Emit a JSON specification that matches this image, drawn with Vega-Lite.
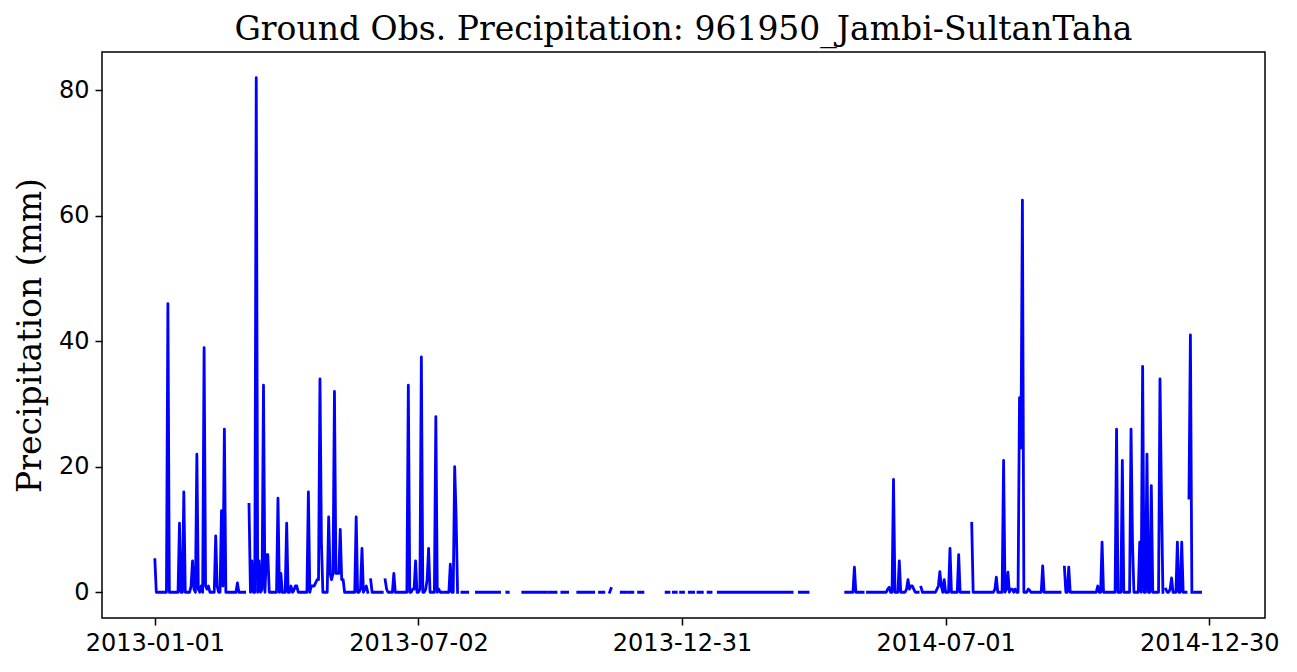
{
"$schema": "https://vega.github.io/schema/vega-lite/v6.json",
"width": 1163, "height": 566,
"autosize": {"type": "none"},
"padding": {"left": 102, "top": 52, "right": 32, "bottom": 54},
"background": "white",
"title": {"text": "Ground Obs. Precipitation: 961950_Jambi-SultanTaha", "font": "DejaVu Serif", "fontSize": 33, "fontWeight": "normal", "color": "black", "anchor": "middle", "offset": 7, "baseline": "bottom", "dy": 35},
"config": {"view": {"stroke": "black", "strokeWidth": 1.5}, "axis": {"domain": false, "grid": false, "tickColor": "black", "tickSize": 7, "tickWidth": 1.5, "labelFont": "DejaVu Sans", "labelFontSize": 24, "labelColor": "black", "titleFont": "DejaVu Serif", "titleFontSize": 33, "titleFontWeight": "normal", "titleColor": "black"}},
"data": {"values": [
{"date":"2013-01-01","precip":5.2},{"date":"2013-01-02","precip":0},{"date":"2013-01-03","precip":0},{"date":"2013-01-04","precip":0},{"date":"2013-01-05","precip":0},{"date":"2013-01-06","precip":0},{"date":"2013-01-07","precip":0},{"date":"2013-01-08","precip":0},{"date":"2013-01-09","precip":0},{"date":"2013-01-10","precip":46},{"date":"2013-01-11","precip":0},{"date":"2013-01-12","precip":0},{"date":"2013-01-13","precip":0},{"date":"2013-01-14","precip":0},{"date":"2013-01-15","precip":0},{"date":"2013-01-16","precip":0},{"date":"2013-01-17","precip":0},{"date":"2013-01-18","precip":11},{"date":"2013-01-19","precip":0},{"date":"2013-01-20","precip":0},{"date":"2013-01-21","precip":16},{"date":"2013-01-22","precip":0},{"date":"2013-01-23","precip":0},{"date":"2013-01-24","precip":0},{"date":"2013-01-25","precip":0},{"date":"2013-01-26","precip":1},{"date":"2013-01-27","precip":5},{"date":"2013-01-28","precip":0.5},{"date":"2013-01-29","precip":0},{"date":"2013-01-30","precip":22},{"date":"2013-01-31","precip":0.5},
{"date":"2013-02-01","precip":0},{"date":"2013-02-02","precip":1},{"date":"2013-02-03","precip":0},{"date":"2013-02-04","precip":39},{"date":"2013-02-05","precip":1},{"date":"2013-02-06","precip":0.5},{"date":"2013-02-07","precip":1},{"date":"2013-02-08","precip":0},{"date":"2013-02-09","precip":0},{"date":"2013-02-10","precip":0},{"date":"2013-02-11","precip":0},{"date":"2013-02-12","precip":9},{"date":"2013-02-13","precip":1},{"date":"2013-02-14","precip":0},{"date":"2013-02-15","precip":0},{"date":"2013-02-16","precip":13},{"date":"2013-02-17","precip":1},{"date":"2013-02-18","precip":26},{"date":"2013-02-19","precip":0},{"date":"2013-02-20","precip":0},{"date":"2013-02-21","precip":0},{"date":"2013-02-22","precip":0},{"date":"2013-02-23","precip":0},{"date":"2013-02-24","precip":0},{"date":"2013-02-25","precip":0},{"date":"2013-02-26","precip":0},{"date":"2013-02-27","precip":1.5},{"date":"2013-02-28","precip":0},
{"date":"2013-03-01","precip":0},{"date":"2013-03-02","precip":0},{"date":"2013-03-03","precip":0},{"date":"2013-03-04","precip":0},{"date":"2013-03-05","precip":null},{"date":"2013-03-06","precip":null},{"date":"2013-03-07","precip":14},{"date":"2013-03-08","precip":0},{"date":"2013-03-09","precip":5},{"date":"2013-03-10","precip":0},{"date":"2013-03-11","precip":0},{"date":"2013-03-12","precip":82},{"date":"2013-03-13","precip":0},{"date":"2013-03-14","precip":5},{"date":"2013-03-15","precip":0},{"date":"2013-03-16","precip":0.5},{"date":"2013-03-17","precip":33},{"date":"2013-03-18","precip":0},{"date":"2013-03-19","precip":6},{"date":"2013-03-20","precip":6},{"date":"2013-03-21","precip":0},{"date":"2013-03-22","precip":0},{"date":"2013-03-23","precip":0},{"date":"2013-03-24","precip":0},{"date":"2013-03-25","precip":0},{"date":"2013-03-26","precip":0},{"date":"2013-03-27","precip":15},{"date":"2013-03-28","precip":0},{"date":"2013-03-29","precip":3},{"date":"2013-03-30","precip":0},{"date":"2013-03-31","precip":0},
{"date":"2013-04-01","precip":0},{"date":"2013-04-02","precip":11},{"date":"2013-04-03","precip":0},{"date":"2013-04-04","precip":0},{"date":"2013-04-05","precip":1},{"date":"2013-04-06","precip":0},{"date":"2013-04-07","precip":0.3},{"date":"2013-04-08","precip":1},{"date":"2013-04-09","precip":1},{"date":"2013-04-10","precip":0},{"date":"2013-04-11","precip":0},{"date":"2013-04-12","precip":0},{"date":"2013-04-13","precip":0},{"date":"2013-04-14","precip":0},{"date":"2013-04-15","precip":0},{"date":"2013-04-16","precip":0},{"date":"2013-04-17","precip":16},{"date":"2013-04-18","precip":0},{"date":"2013-04-19","precip":1},{"date":"2013-04-20","precip":1},{"date":"2013-04-21","precip":1},{"date":"2013-04-22","precip":1.5},{"date":"2013-04-23","precip":2},{"date":"2013-04-24","precip":2},{"date":"2013-04-25","precip":34},{"date":"2013-04-26","precip":8},{"date":"2013-04-27","precip":0},{"date":"2013-04-28","precip":0},{"date":"2013-04-29","precip":0},{"date":"2013-04-30","precip":0},
{"date":"2013-05-01","precip":12},{"date":"2013-05-02","precip":3},{"date":"2013-05-03","precip":2},{"date":"2013-05-04","precip":3},{"date":"2013-05-05","precip":32},{"date":"2013-05-06","precip":3},{"date":"2013-05-07","precip":3},{"date":"2013-05-08","precip":3},{"date":"2013-05-09","precip":10},{"date":"2013-05-10","precip":2},{"date":"2013-05-11","precip":2},{"date":"2013-05-12","precip":0},{"date":"2013-05-13","precip":0},{"date":"2013-05-14","precip":0},{"date":"2013-05-15","precip":0},{"date":"2013-05-16","precip":0},{"date":"2013-05-17","precip":0},{"date":"2013-05-18","precip":0},{"date":"2013-05-19","precip":0},{"date":"2013-05-20","precip":12},{"date":"2013-05-21","precip":0},{"date":"2013-05-22","precip":0},{"date":"2013-05-23","precip":0.5},{"date":"2013-05-24","precip":7},{"date":"2013-05-25","precip":0},{"date":"2013-05-26","precip":0.5},{"date":"2013-05-27","precip":1},{"date":"2013-05-28","precip":0},{"date":"2013-05-29","precip":null},{"date":"2013-05-30","precip":2},{"date":"2013-05-31","precip":0},
{"date":"2013-06-01","precip":0},{"date":"2013-06-02","precip":0},{"date":"2013-06-03","precip":0},{"date":"2013-06-04","precip":0},{"date":"2013-06-05","precip":0},{"date":"2013-06-06","precip":0},{"date":"2013-06-07","precip":0},{"date":"2013-06-08","precip":null},{"date":"2013-06-09","precip":2},{"date":"2013-06-10","precip":0.5},{"date":"2013-06-11","precip":0},{"date":"2013-06-12","precip":0},{"date":"2013-06-13","precip":0},{"date":"2013-06-14","precip":0},{"date":"2013-06-15","precip":3},{"date":"2013-06-16","precip":0},{"date":"2013-06-17","precip":0},{"date":"2013-06-18","precip":0},{"date":"2013-06-19","precip":0},{"date":"2013-06-20","precip":0},{"date":"2013-06-21","precip":0},{"date":"2013-06-22","precip":0},{"date":"2013-06-23","precip":0},{"date":"2013-06-24","precip":0},{"date":"2013-06-25","precip":33},{"date":"2013-06-26","precip":0},{"date":"2013-06-27","precip":0},{"date":"2013-06-28","precip":0.5},{"date":"2013-06-29","precip":0.5},{"date":"2013-06-30","precip":5},
{"date":"2013-07-01","precip":0},{"date":"2013-07-02","precip":0},{"date":"2013-07-03","precip":0.5},{"date":"2013-07-04","precip":37.5},{"date":"2013-07-05","precip":0},{"date":"2013-07-06","precip":0},{"date":"2013-07-07","precip":0.5},{"date":"2013-07-08","precip":2},{"date":"2013-07-09","precip":7},{"date":"2013-07-10","precip":0},{"date":"2013-07-11","precip":0},{"date":"2013-07-12","precip":0},{"date":"2013-07-13","precip":0},{"date":"2013-07-14","precip":28},{"date":"2013-07-15","precip":0},{"date":"2013-07-16","precip":0.5},{"date":"2013-07-17","precip":0},{"date":"2013-07-18","precip":0},{"date":"2013-07-19","precip":null},{"date":"2013-07-20","precip":0},{"date":"2013-07-21","precip":0},{"date":"2013-07-22","precip":0},{"date":"2013-07-23","precip":0},{"date":"2013-07-24","precip":4.5},{"date":"2013-07-25","precip":0},{"date":"2013-07-26","precip":0},{"date":"2013-07-27","precip":20},{"date":"2013-07-28","precip":12},{"date":"2013-07-29","precip":0},{"date":"2013-07-30","precip":null},{"date":"2013-07-31","precip":null},
{"date":"2013-08-01","precip":0},{"date":"2013-08-02","precip":0},{"date":"2013-08-03","precip":0},{"date":"2013-08-04","precip":0},{"date":"2013-08-05","precip":0},{"date":"2013-08-06","precip":null},{"date":"2013-08-07","precip":null},{"date":"2013-08-08","precip":null},{"date":"2013-08-09","precip":null},{"date":"2013-08-10","precip":null},{"date":"2013-08-11","precip":0},{"date":"2013-08-12","precip":0},{"date":"2013-08-13","precip":0},{"date":"2013-08-14","precip":0},{"date":"2013-08-15","precip":0},{"date":"2013-08-16","precip":0},{"date":"2013-08-17","precip":0},{"date":"2013-08-18","precip":0},{"date":"2013-08-19","precip":0},{"date":"2013-08-20","precip":0},{"date":"2013-08-21","precip":0},{"date":"2013-08-22","precip":0},{"date":"2013-08-23","precip":0},{"date":"2013-08-24","precip":0},{"date":"2013-08-25","precip":0},{"date":"2013-08-26","precip":0},{"date":"2013-08-27","precip":0},{"date":"2013-08-28","precip":null},{"date":"2013-08-29","precip":null},{"date":"2013-08-30","precip":null},{"date":"2013-08-31","precip":null},
{"date":"2013-09-01","precip":0},{"date":"2013-09-02","precip":0},{"date":"2013-09-03","precip":null},{"date":"2013-09-04","precip":null},{"date":"2013-09-05","precip":null},{"date":"2013-09-06","precip":null},{"date":"2013-09-07","precip":null},{"date":"2013-09-08","precip":null},{"date":"2013-09-09","precip":null},{"date":"2013-09-10","precip":null},{"date":"2013-09-11","precip":null},{"date":"2013-09-12","precip":0},{"date":"2013-09-13","precip":0},{"date":"2013-09-14","precip":0},{"date":"2013-09-15","precip":0},{"date":"2013-09-16","precip":0},{"date":"2013-09-17","precip":0},{"date":"2013-09-18","precip":0},{"date":"2013-09-19","precip":0},{"date":"2013-09-20","precip":0},{"date":"2013-09-21","precip":0},{"date":"2013-09-22","precip":0},{"date":"2013-09-23","precip":0},{"date":"2013-09-24","precip":0},{"date":"2013-09-25","precip":0},{"date":"2013-09-26","precip":0},{"date":"2013-09-27","precip":0},{"date":"2013-09-28","precip":0},{"date":"2013-09-29","precip":null},{"date":"2013-09-30","precip":0},
{"date":"2013-10-01","precip":0},{"date":"2013-10-02","precip":0},{"date":"2013-10-03","precip":0},{"date":"2013-10-04","precip":0},{"date":"2013-10-05","precip":0},{"date":"2013-10-06","precip":null},{"date":"2013-10-07","precip":null},{"date":"2013-10-08","precip":null},{"date":"2013-10-09","precip":0},{"date":"2013-10-10","precip":0},{"date":"2013-10-11","precip":0},{"date":"2013-10-12","precip":0},{"date":"2013-10-13","precip":0},{"date":"2013-10-14","precip":null},{"date":"2013-10-15","precip":null},{"date":"2013-10-16","precip":null},{"date":"2013-10-17","precip":null},{"date":"2013-10-18","precip":null},{"date":"2013-10-19","precip":null},{"date":"2013-10-20","precip":0},{"date":"2013-10-21","precip":0},{"date":"2013-10-22","precip":0},{"date":"2013-10-23","precip":0},{"date":"2013-10-24","precip":0},{"date":"2013-10-25","precip":0},{"date":"2013-10-26","precip":0},{"date":"2013-10-27","precip":0},{"date":"2013-10-28","precip":0},{"date":"2013-10-29","precip":0},{"date":"2013-10-30","precip":0},{"date":"2013-10-31","precip":0},
{"date":"2013-11-01","precip":null},{"date":"2013-11-02","precip":null},{"date":"2013-11-03","precip":null},{"date":"2013-11-04","precip":0},{"date":"2013-11-05","precip":0},{"date":"2013-11-06","precip":0},{"date":"2013-11-07","precip":0},{"date":"2013-11-08","precip":null},{"date":"2013-11-09","precip":null},{"date":"2013-11-10","precip":null},{"date":"2013-11-11","precip":0},{"date":"2013-11-12","precip":0.6},{"date":"2013-11-13","precip":null},{"date":"2013-11-14","precip":null},{"date":"2013-11-15","precip":null},{"date":"2013-11-16","precip":null},{"date":"2013-11-17","precip":null},{"date":"2013-11-18","precip":null},{"date":"2013-11-19","precip":0},{"date":"2013-11-20","precip":0},{"date":"2013-11-21","precip":0},{"date":"2013-11-22","precip":0},{"date":"2013-11-23","precip":null},{"date":"2013-11-24","precip":0},{"date":"2013-11-25","precip":0},{"date":"2013-11-26","precip":0},{"date":"2013-11-27","precip":0},{"date":"2013-11-28","precip":null},{"date":"2013-11-29","precip":null},{"date":"2013-11-30","precip":null},
{"date":"2013-12-01","precip":0},{"date":"2013-12-02","precip":0},{"date":"2013-12-03","precip":0},{"date":"2013-12-04","precip":0},{"date":"2013-12-05","precip":null},{"date":"2013-12-06","precip":null},{"date":"2013-12-07","precip":null},{"date":"2013-12-08","precip":null},{"date":"2013-12-09","precip":null},{"date":"2013-12-10","precip":null},{"date":"2013-12-11","precip":null},{"date":"2013-12-12","precip":null},{"date":"2013-12-13","precip":null},{"date":"2013-12-14","precip":null},{"date":"2013-12-15","precip":null},{"date":"2013-12-16","precip":null},{"date":"2013-12-17","precip":null},{"date":"2013-12-18","precip":null},{"date":"2013-12-19","precip":null},{"date":"2013-12-20","precip":0},{"date":"2013-12-21","precip":0},{"date":"2013-12-22","precip":0},{"date":"2013-12-23","precip":null},{"date":"2013-12-24","precip":null},{"date":"2013-12-25","precip":0},{"date":"2013-12-26","precip":0},{"date":"2013-12-27","precip":0},{"date":"2013-12-28","precip":null},{"date":"2013-12-29","precip":null},{"date":"2013-12-30","precip":0},{"date":"2013-12-31","precip":0},
{"date":"2014-01-01","precip":0},{"date":"2014-01-02","precip":null},{"date":"2014-01-03","precip":null},{"date":"2014-01-04","precip":null},{"date":"2014-01-05","precip":0},{"date":"2014-01-06","precip":0},{"date":"2014-01-07","precip":0},{"date":"2014-01-08","precip":0},{"date":"2014-01-09","precip":null},{"date":"2014-01-10","precip":null},{"date":"2014-01-11","precip":0},{"date":"2014-01-12","precip":0},{"date":"2014-01-13","precip":0},{"date":"2014-01-14","precip":0},{"date":"2014-01-15","precip":null},{"date":"2014-01-16","precip":null},{"date":"2014-01-17","precip":null},{"date":"2014-01-18","precip":0},{"date":"2014-01-19","precip":0},{"date":"2014-01-20","precip":0},{"date":"2014-01-21","precip":null},{"date":"2014-01-22","precip":null},{"date":"2014-01-23","precip":null},{"date":"2014-01-24","precip":null},{"date":"2014-01-25","precip":0},{"date":"2014-01-26","precip":0},{"date":"2014-01-27","precip":0},{"date":"2014-01-28","precip":0},{"date":"2014-01-29","precip":0},{"date":"2014-01-30","precip":0},{"date":"2014-01-31","precip":0},
{"date":"2014-02-01","precip":0},{"date":"2014-02-02","precip":0},{"date":"2014-02-03","precip":0},{"date":"2014-02-04","precip":0},{"date":"2014-02-05","precip":0},{"date":"2014-02-06","precip":0},{"date":"2014-02-07","precip":0},{"date":"2014-02-08","precip":0},{"date":"2014-02-09","precip":0},{"date":"2014-02-10","precip":0},{"date":"2014-02-11","precip":0},{"date":"2014-02-12","precip":0},{"date":"2014-02-13","precip":0},{"date":"2014-02-14","precip":0},{"date":"2014-02-15","precip":0},{"date":"2014-02-16","precip":0},{"date":"2014-02-17","precip":0},{"date":"2014-02-18","precip":0},{"date":"2014-02-19","precip":0},{"date":"2014-02-20","precip":0},{"date":"2014-02-21","precip":0},{"date":"2014-02-22","precip":0},{"date":"2014-02-23","precip":0},{"date":"2014-02-24","precip":0},{"date":"2014-02-25","precip":0},{"date":"2014-02-26","precip":0},{"date":"2014-02-27","precip":0},{"date":"2014-02-28","precip":0},
{"date":"2014-03-01","precip":0},{"date":"2014-03-02","precip":0},{"date":"2014-03-03","precip":0},{"date":"2014-03-04","precip":0},{"date":"2014-03-05","precip":0},{"date":"2014-03-06","precip":0},{"date":"2014-03-07","precip":0},{"date":"2014-03-08","precip":0},{"date":"2014-03-09","precip":0},{"date":"2014-03-10","precip":0},{"date":"2014-03-11","precip":0},{"date":"2014-03-12","precip":0},{"date":"2014-03-13","precip":0},{"date":"2014-03-14","precip":0},{"date":"2014-03-15","precip":0},{"date":"2014-03-16","precip":0},{"date":"2014-03-17","precip":0},{"date":"2014-03-18","precip":null},{"date":"2014-03-19","precip":null},{"date":"2014-03-20","precip":null},{"date":"2014-03-21","precip":null},{"date":"2014-03-22","precip":0},{"date":"2014-03-23","precip":0},{"date":"2014-03-24","precip":0},{"date":"2014-03-25","precip":0},{"date":"2014-03-26","precip":0},{"date":"2014-03-27","precip":0},{"date":"2014-03-28","precip":0},{"date":"2014-03-29","precip":null},{"date":"2014-03-30","precip":null},{"date":"2014-03-31","precip":null},
{"date":"2014-04-01","precip":null},{"date":"2014-04-02","precip":null},{"date":"2014-04-03","precip":null},{"date":"2014-04-04","precip":null},{"date":"2014-04-05","precip":null},{"date":"2014-04-06","precip":null},{"date":"2014-04-07","precip":null},{"date":"2014-04-08","precip":null},{"date":"2014-04-09","precip":null},{"date":"2014-04-10","precip":null},{"date":"2014-04-11","precip":null},{"date":"2014-04-12","precip":null},{"date":"2014-04-13","precip":null},{"date":"2014-04-14","precip":null},{"date":"2014-04-15","precip":null},{"date":"2014-04-16","precip":null},{"date":"2014-04-17","precip":null},{"date":"2014-04-18","precip":null},{"date":"2014-04-19","precip":null},{"date":"2014-04-20","precip":null},{"date":"2014-04-21","precip":null},{"date":"2014-04-22","precip":null},{"date":"2014-04-23","precip":0},{"date":"2014-04-24","precip":0},{"date":"2014-04-25","precip":0},{"date":"2014-04-26","precip":0},{"date":"2014-04-27","precip":0},{"date":"2014-04-28","precip":0},{"date":"2014-04-29","precip":4},{"date":"2014-04-30","precip":0},
{"date":"2014-05-01","precip":0},{"date":"2014-05-02","precip":0},{"date":"2014-05-03","precip":0},{"date":"2014-05-04","precip":0},{"date":"2014-05-05","precip":0},{"date":"2014-05-06","precip":null},{"date":"2014-05-07","precip":null},{"date":"2014-05-08","precip":0},{"date":"2014-05-09","precip":0},{"date":"2014-05-10","precip":0},{"date":"2014-05-11","precip":0},{"date":"2014-05-12","precip":0},{"date":"2014-05-13","precip":0},{"date":"2014-05-14","precip":0},{"date":"2014-05-15","precip":0},{"date":"2014-05-16","precip":0},{"date":"2014-05-17","precip":0},{"date":"2014-05-18","precip":0},{"date":"2014-05-19","precip":0},{"date":"2014-05-20","precip":0},{"date":"2014-05-21","precip":0},{"date":"2014-05-22","precip":0.5},{"date":"2014-05-23","precip":0.8},{"date":"2014-05-24","precip":0},{"date":"2014-05-25","precip":0},{"date":"2014-05-26","precip":18},{"date":"2014-05-27","precip":0},{"date":"2014-05-28","precip":0},{"date":"2014-05-29","precip":0},{"date":"2014-05-30","precip":5},{"date":"2014-05-31","precip":0},
{"date":"2014-06-01","precip":0},{"date":"2014-06-02","precip":0},{"date":"2014-06-03","precip":0},{"date":"2014-06-04","precip":0.5},{"date":"2014-06-05","precip":2},{"date":"2014-06-06","precip":0.5},{"date":"2014-06-07","precip":1},{"date":"2014-06-08","precip":1},{"date":"2014-06-09","precip":0.5},{"date":"2014-06-10","precip":0},{"date":"2014-06-11","precip":0},{"date":"2014-06-12","precip":0},{"date":"2014-06-13","precip":null},{"date":"2014-06-14","precip":0.8},{"date":"2014-06-15","precip":0},{"date":"2014-06-16","precip":0},{"date":"2014-06-17","precip":0},{"date":"2014-06-18","precip":0},{"date":"2014-06-19","precip":0},{"date":"2014-06-20","precip":0},{"date":"2014-06-21","precip":0},{"date":"2014-06-22","precip":0},{"date":"2014-06-23","precip":0},{"date":"2014-06-24","precip":0},{"date":"2014-06-25","precip":0.5},{"date":"2014-06-26","precip":1},{"date":"2014-06-27","precip":3.3},{"date":"2014-06-28","precip":1},{"date":"2014-06-29","precip":0},{"date":"2014-06-30","precip":2},
{"date":"2014-07-01","precip":0},{"date":"2014-07-02","precip":0},{"date":"2014-07-03","precip":0},{"date":"2014-07-04","precip":7},{"date":"2014-07-05","precip":0},{"date":"2014-07-06","precip":0},{"date":"2014-07-07","precip":0},{"date":"2014-07-08","precip":0},{"date":"2014-07-09","precip":0},{"date":"2014-07-10","precip":6},{"date":"2014-07-11","precip":0},{"date":"2014-07-12","precip":0},{"date":"2014-07-13","precip":0},{"date":"2014-07-14","precip":0},{"date":"2014-07-15","precip":0},{"date":"2014-07-16","precip":0},{"date":"2014-07-17","precip":0},{"date":"2014-07-18","precip":null},{"date":"2014-07-19","precip":11},{"date":"2014-07-20","precip":0},{"date":"2014-07-21","precip":0},{"date":"2014-07-22","precip":0},{"date":"2014-07-23","precip":0},{"date":"2014-07-24","precip":0},{"date":"2014-07-25","precip":0},{"date":"2014-07-26","precip":0},{"date":"2014-07-27","precip":0},{"date":"2014-07-28","precip":0},{"date":"2014-07-29","precip":0},{"date":"2014-07-30","precip":0},{"date":"2014-07-31","precip":0},
{"date":"2014-08-01","precip":0},{"date":"2014-08-02","precip":0},{"date":"2014-08-03","precip":0},{"date":"2014-08-04","precip":0.5},{"date":"2014-08-05","precip":2.4},{"date":"2014-08-06","precip":0},{"date":"2014-08-07","precip":0},{"date":"2014-08-08","precip":0},{"date":"2014-08-09","precip":0},{"date":"2014-08-10","precip":21},{"date":"2014-08-11","precip":0},{"date":"2014-08-12","precip":0.5},{"date":"2014-08-13","precip":3.2},{"date":"2014-08-14","precip":0},{"date":"2014-08-15","precip":0.5},{"date":"2014-08-16","precip":0.5},{"date":"2014-08-17","precip":0},{"date":"2014-08-18","precip":0.5},{"date":"2014-08-19","precip":0},{"date":"2014-08-20","precip":0},{"date":"2014-08-21","precip":31},{"date":"2014-08-22","precip":23},{"date":"2014-08-23","precip":62.5},{"date":"2014-08-24","precip":0},{"date":"2014-08-25","precip":0},{"date":"2014-08-26","precip":0},{"date":"2014-08-27","precip":0.5},{"date":"2014-08-28","precip":0.3},{"date":"2014-08-29","precip":0},{"date":"2014-08-30","precip":0},{"date":"2014-08-31","precip":0},
{"date":"2014-09-01","precip":0},{"date":"2014-09-02","precip":0},{"date":"2014-09-03","precip":0},{"date":"2014-09-04","precip":0},{"date":"2014-09-05","precip":0},{"date":"2014-09-06","precip":4.2},{"date":"2014-09-07","precip":0},{"date":"2014-09-08","precip":0},{"date":"2014-09-09","precip":0},{"date":"2014-09-10","precip":0},{"date":"2014-09-11","precip":0},{"date":"2014-09-12","precip":0},{"date":"2014-09-13","precip":0},{"date":"2014-09-14","precip":0},{"date":"2014-09-15","precip":0},{"date":"2014-09-16","precip":0},{"date":"2014-09-17","precip":0},{"date":"2014-09-18","precip":0},{"date":"2014-09-19","precip":null},{"date":"2014-09-20","precip":null},{"date":"2014-09-21","precip":4},{"date":"2014-09-22","precip":0},{"date":"2014-09-23","precip":0},{"date":"2014-09-24","precip":4},{"date":"2014-09-25","precip":0},{"date":"2014-09-26","precip":0},{"date":"2014-09-27","precip":0},{"date":"2014-09-28","precip":0},{"date":"2014-09-29","precip":0},{"date":"2014-09-30","precip":0},
{"date":"2014-10-01","precip":0},{"date":"2014-10-02","precip":0},{"date":"2014-10-03","precip":0},{"date":"2014-10-04","precip":0},{"date":"2014-10-05","precip":0},{"date":"2014-10-06","precip":0},{"date":"2014-10-07","precip":0},{"date":"2014-10-08","precip":0},{"date":"2014-10-09","precip":0},{"date":"2014-10-10","precip":0},{"date":"2014-10-11","precip":0},{"date":"2014-10-12","precip":0},{"date":"2014-10-13","precip":0},{"date":"2014-10-14","precip":1},{"date":"2014-10-15","precip":0},{"date":"2014-10-16","precip":0},{"date":"2014-10-17","precip":8},{"date":"2014-10-18","precip":0},{"date":"2014-10-19","precip":0},{"date":"2014-10-20","precip":0},{"date":"2014-10-21","precip":0},{"date":"2014-10-22","precip":0},{"date":"2014-10-23","precip":0},{"date":"2014-10-24","precip":0},{"date":"2014-10-25","precip":0},{"date":"2014-10-26","precip":0},{"date":"2014-10-27","precip":26},{"date":"2014-10-28","precip":0},{"date":"2014-10-29","precip":0},{"date":"2014-10-30","precip":0},{"date":"2014-10-31","precip":21},
{"date":"2014-11-01","precip":0},{"date":"2014-11-02","precip":0},{"date":"2014-11-03","precip":0},{"date":"2014-11-04","precip":0},{"date":"2014-11-05","precip":0},{"date":"2014-11-06","precip":26},{"date":"2014-11-07","precip":8},{"date":"2014-11-08","precip":0},{"date":"2014-11-09","precip":0},{"date":"2014-11-10","precip":0},{"date":"2014-11-11","precip":0},{"date":"2014-11-12","precip":8},{"date":"2014-11-13","precip":0},{"date":"2014-11-14","precip":36},{"date":"2014-11-15","precip":0},{"date":"2014-11-16","precip":0},{"date":"2014-11-17","precip":22},{"date":"2014-11-18","precip":0},{"date":"2014-11-19","precip":0},{"date":"2014-11-20","precip":17},{"date":"2014-11-21","precip":0},{"date":"2014-11-22","precip":0},{"date":"2014-11-23","precip":0},{"date":"2014-11-24","precip":0},{"date":"2014-11-25","precip":0},{"date":"2014-11-26","precip":34},{"date":"2014-11-27","precip":15},{"date":"2014-11-28","precip":0},{"date":"2014-11-29","precip":null},{"date":"2014-11-30","precip":0.5},
{"date":"2014-12-01","precip":0},{"date":"2014-12-02","precip":0},{"date":"2014-12-03","precip":0.5},{"date":"2014-12-04","precip":2.3},{"date":"2014-12-05","precip":0},{"date":"2014-12-06","precip":0},{"date":"2014-12-07","precip":0},{"date":"2014-12-08","precip":8},{"date":"2014-12-09","precip":0},{"date":"2014-12-10","precip":0},{"date":"2014-12-11","precip":8},{"date":"2014-12-12","precip":0},{"date":"2014-12-13","precip":0},{"date":"2014-12-14","precip":0},{"date":"2014-12-15","precip":null},{"date":"2014-12-16","precip":15},{"date":"2014-12-17","precip":41},{"date":"2014-12-18","precip":0},{"date":"2014-12-19","precip":null},{"date":"2014-12-20","precip":0},{"date":"2014-12-21","precip":0},{"date":"2014-12-22","precip":0},{"date":"2014-12-23","precip":0},{"date":"2014-12-24","precip":0},{"date":"2014-12-25","precip":null},{"date":"2014-12-26","precip":null},{"date":"2014-12-27","precip":null},{"date":"2014-12-28","precip":null},{"date":"2014-12-29","precip":null},{"date":"2014-12-30","precip":null},{"date":"2014-12-31","precip":null}
]},
"mark": {"type": "line", "color": "#0000ff", "strokeWidth": 2.8, "strokeJoin": "round", "strokeCap": "square", "invalid": "break-paths-show-domains", "clip": true},
"encoding": {
"x": {"field": "date", "type": "temporal", "scale": {"type": "utc", "domain": [{"year": 2012, "month": 11, "date": 25, "hours": 12, "utc": true}, {"year": 2015, "month": 2, "date": 6, "hours": 12, "utc": true}]}, "axis": {"title": null, "values": [{"year": 2013, "month": 1, "date": 1, "utc": true}, {"year": 2013, "month": 7, "date": 2, "utc": true}, {"year": 2013, "month": 12, "date": 31, "utc": true}, {"year": 2014, "month": 7, "date": 1, "utc": true}, {"year": 2014, "month": 12, "date": 30, "utc": true}], "format": "%Y-%m-%d", "labelPadding": 6, "labelFlush": false, "labelOverlap": false}},
"y": {"field": "precip", "type": "quantitative", "scale": {"domain": [-4.1, 86.1], "nice": false, "zero": false}, "axis": {"title": "Precipitation (mm)", "values": [0, 20, 40, 60, 80], "labelPadding": 6, "titleX": -72, "titleY": 283, "titleAngle": -90, "titleBaseline": "middle", "titleAlign": "center"}}
}
}
